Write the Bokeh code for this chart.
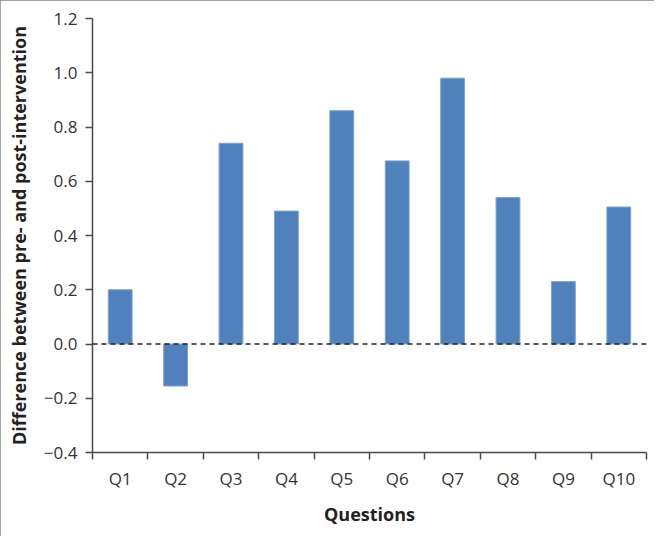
from bokeh.plotting import figure
from bokeh.models import Range1d, FixedTicker, Span
from bokeh.embed import file_html
from bokeh.resources import INLINE

questions = ["Q1", "Q2", "Q3", "Q4", "Q5", "Q6", "Q7", "Q8", "Q9", "Q10"]
differences = [0.20, -0.155, 0.74, 0.49, 0.86, 0.675, 0.98, 0.54, 0.23, 0.505]
y_ticks = [-0.4, -0.2, 0.0, 0.2, 0.4, 0.6, 0.8, 1.0, 1.2]

x_pos = [i + 0.5 for i in range(len(questions))]

p = figure(width=654, height=536, output_backend="svg", toolbar_location=None,
           x_range=Range1d(0, len(questions)), y_range=Range1d(-0.4, 1.2),
           min_border_left=92, min_border_right=8, min_border_top=18, min_border_bottom=84)
p.frame_width = 554
p.frame_height = 434
p.outline_line_color = None
p.xgrid.grid_line_color = None
p.ygrid.grid_line_color = None
p.background_fill_color = "white"
p.border_fill_color = "white"
p.styles = {"outline": "2px solid #858585", "outline-offset": "-2px"}

p.vbar(x=x_pos, top=differences, bottom=0, width=0.43,
       fill_color="#4F81BD", line_color="#7FA3D1", line_width=1)

p.add_layout(Span(location=0, dimension="width", line_color="#222222",
                  line_width=1.3, line_dash="5 4"))

font = "Open Sans"
axis_color = "#4a4a4a"
label_color = "#333333"

# x axis
p.xaxis.ticker = FixedTicker(ticks=x_pos, minor_ticks=list(range(len(questions) + 1)))
p.xaxis.major_label_overrides = {x: q for x, q in zip(x_pos, questions)}
p.xaxis.major_tick_out = 0
p.xaxis.major_tick_in = 0
p.xaxis.minor_tick_out = 7
p.xaxis.minor_tick_in = 0
p.xaxis.minor_tick_line_color = axis_color
p.xaxis.minor_tick_line_width = 1.5
p.xaxis.axis_line_color = axis_color
p.xaxis.axis_line_width = 1.5
p.xaxis.major_label_standoff = 7
p.xaxis.major_label_text_font = font
p.xaxis.major_label_text_font_size = "17px"
p.xaxis.major_label_text_color = label_color
p.xaxis.axis_label = "Questions"
p.xaxis.axis_label_text_font = font
p.xaxis.axis_label_text_font_style = "bold"
p.xaxis.axis_label_text_font_size = "18px"
p.xaxis.axis_label_text_color = "#222222"
p.xaxis.axis_label_standoff = 9

# y axis
p.yaxis.ticker = FixedTicker(ticks=y_ticks, minor_ticks=[])
p.yaxis.major_label_overrides = {t: ("%.1f" % t).replace("-", "\u2212") for t in y_ticks}
p.yaxis.major_tick_out = 7
p.yaxis.major_tick_in = 0
p.yaxis.major_tick_line_color = axis_color
p.yaxis.major_tick_line_width = 1.5
p.yaxis.minor_tick_line_color = None
p.yaxis.axis_line_color = axis_color
p.yaxis.axis_line_width = 1.5
p.yaxis.major_label_standoff = 8
p.yaxis.major_label_text_font = font
p.yaxis.major_label_text_font_size = "17px"
p.yaxis.major_label_text_color = label_color
p.yaxis.axis_label = "Difference between pre- and post-intervention"
p.yaxis.axis_label_text_font = font
p.yaxis.axis_label_text_font_style = "bold"
p.yaxis.axis_label_text_font_size = "18px"
p.yaxis.axis_label_text_color = "#222222"
p.yaxis.axis_label_standoff = 10

open("out.html", "w").write(file_html(p, INLINE))
